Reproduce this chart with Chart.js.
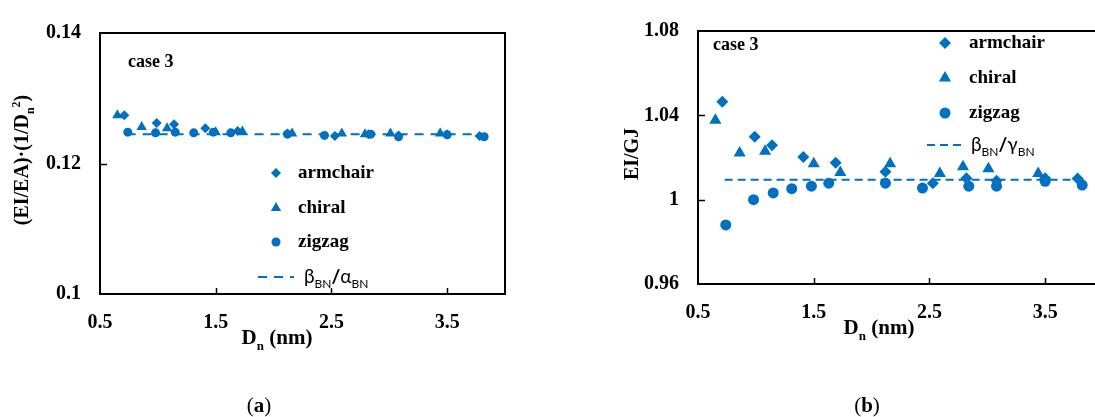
<!DOCTYPE html>
<html lang="en">
<head>
<meta charset="UTF-8">
<title>EI ratios vs Dn</title>
<script src="https://cdn.jsdelivr.net/npm/chart.js"></script>
<style>
  html, body { margin: 0; padding: 0; background: #fff; overflow: hidden; }
  body { width: 1095px; height: 417px; position: relative; }
  canvas { position: absolute; top: 0; }
  #chartA { left: 0; }
  #chartB { left: 545px; }
</style>
</head>
<body>
<canvas id="chartA" width="545" height="417"></canvas>
<canvas id="chartB" width="570" height="417"></canvas>

<script>
// diameters (nm) for each tube family
const armchairX = [0.71, 0.99, 1.14, 1.41, 1.69, 2.12, 2.53, 2.82, 3.08, 3.50, 3.78];
const chiralX   = [0.65, 0.86, 1.08, 1.50, 1.73, 2.16, 2.59, 2.79, 3.01, 3.44];
const zigzagX   = [0.74, 0.98, 1.15, 1.31, 1.48, 1.63, 2.12, 2.44, 2.84, 3.08, 3.50, 3.82];

// panel (a): (EI/EA)*(1/Dn^2)
const armchairA = [0.1274, 0.1262, 0.1260, 0.1254, 0.1250, 0.1246, 0.1242, 0.1245, 0.1243, 0.1245, 0.1242];
const chiralA   = [0.1274, 0.1256, 0.1254, 0.1248, 0.1249, 0.1246, 0.1246, 0.1245, 0.1246, 0.1246];
const zigzagA   = [0.1248, 0.1247, 0.1248, 0.1247, 0.1248, 0.1247, 0.1245, 0.1243, 0.1245, 0.1241, 0.1244, 0.1241];
const refLineA  = { x: [0.73, 3.82], y: 0.1245 };

// panel (b): EI/GJ
const armchairB = [1.0464, 1.0299, 1.0258, 1.0202, 1.0175, 1.0133, 1.0078, 1.0101, 1.0090, 1.0101, 1.0100];
const chiralB   = [1.0377, 1.0221, 1.0230, 1.0170, 1.0129, 1.0170, 1.0124, 1.0156, 1.0147, 1.0124];
const zigzagB   = [0.9880, 1.0000, 1.0032, 1.0052, 1.0064, 1.0078, 1.0078, 1.0055, 1.0064, 1.0064, 1.0087, 1.0069];
const refLineB  = { x: [0.73, 3.86], y: 1.0095 };

const xTicks  = [0.5, 1.5, 2.5, 3.5];
const yTicksA = [0.10, 0.12, 0.14];
const yTicksB = [0.96, 1.00, 1.04, 1.08];

const blue = "#0070C0";
const serif = "'Liberation Serif', 'DejaVu Serif', serif";
const sans = "Lato, 'Open Sans', sans-serif";

function pts(xs, ys) {
    return xs.map((x, i) => ({ x: x, y: ys[i] }));
}

// draws a run of text pieces, some as subscript / superscript
function drawRich(ctx, parts, x, y, size, family, align) {
    const fontFor = p => `${p.w || "bold"} ${p.m ? Math.round(size * 0.62) : size}px ${p.f || family}`;
    let total = 0;
    parts.forEach(p => { ctx.font = fontFor(p); total += ctx.measureText(p.t).width; });
    let cx = align === "center" ? x - total / 2 : x;
    ctx.textBaseline = "alphabetic";
    ctx.textAlign = "left";
    parts.forEach(p => {
        ctx.font = fontFor(p);
        let dy = 0;
        if (p.m === "sub") dy = size * 0.28;
        if (p.m === "sup") dy = -size * 0.42;
        ctx.fillText(p.t, cx, y + dy);
        cx += ctx.measureText(p.t).width;
    });
}

function marker(ctx, style, r, x, y) {
    ctx.save();
    ctx.fillStyle = blue;
    Chart.helpers.drawPoint(ctx, { pointStyle: style, radius: r, rotation: 0, borderWidth: 0 }, x, y);
    ctx.restore();
}

function makePanel(id, cfg) {
    const decor = {
        id: "decor",
        afterDraw(chart) {
            const ctx = chart.ctx;
            const a = chart.chartArea;
            const xs = chart.scales.x, ys = chart.scales.y;
            ctx.save();
            // frame
            ctx.strokeStyle = "#000";
            ctx.lineWidth = 2;
            ctx.strokeRect(a.left, a.top, a.right - a.left, a.bottom - a.top);
            // inward tick marks
            ctx.lineWidth = 1.5;
            ctx.beginPath();
            xTicks.slice(1).forEach(v => {
                const px = Math.round(xs.getPixelForValue(v)) + 0.5;
                ctx.moveTo(px, a.bottom);
                ctx.lineTo(px, a.bottom - 6);
            });
            cfg.yTicks.slice(1, -1).forEach(v => {
                const py = Math.round(ys.getPixelForValue(v)) + 0.5;
                ctx.moveTo(a.left, py);
                ctx.lineTo(a.left + 7, py);
            });
            ctx.stroke();

            ctx.fillStyle = "#000";
            // case label
            ctx.font = `bold 18px ${serif}`;
            ctx.textAlign = "left";
            ctx.textBaseline = "middle";
            ctx.fillText("case 3", cfg.caseAt[0], cfg.caseAt[1]);

            // x title
            drawRich(ctx, [{ t: "D" }, { t: "n", m: "sub" }, { t: " (nm)" }],
                cfg.xTitleAt[0], cfg.xTitleAt[1], 21, serif, "center");

            // y title (rotated)
            ctx.save();
            ctx.translate(cfg.yTitleAt[0], cfg.yTitleAt[1]);
            ctx.rotate(-Math.PI / 2);
            drawRich(ctx, cfg.yTitle, 0, 0, 20, serif, "center");
            ctx.restore();

            // panel tag
            drawRich(ctx, [{ t: "(", w: "normal" }, { t: cfg.tag }, { t: ")", w: "normal" }],
                cfg.tagAt[0], cfg.tagAt[1], 21, serif, "center");

            // legend
            const L = cfg.legend;
            const names = ["armchair", "chiral", "zigzag"];
            const styles = ["rectRot", "triangle", "circle"];
            names.forEach((n, i) => {
                marker(ctx, styles[i], cfg.legendR[i], L.mx, L.rows[i]);
                ctx.fillStyle = "#000";
                ctx.font = `bold 19px ${serif}`;
                ctx.textAlign = "left";
                ctx.textBaseline = "middle";
                ctx.fillText(n, L.tx, L.rows[i]);
            });
            ctx.strokeStyle = blue;
            ctx.lineWidth = 2;
            ctx.setLineDash(cfg.dash);
            ctx.beginPath();
            ctx.moveTo(L.lx[0], L.rows[3]);
            ctx.lineTo(L.lx[1], L.rows[3]);
            ctx.stroke();
            ctx.setLineDash([]);
            ctx.fillStyle = "#000";
            drawRich(ctx, [{ t: "β", f: sans, w: "normal" }, { t: "BN", m: "sub", f: sans, w: "normal" },
                           { t: "/", f: sans }, { t: cfg.greek, f: sans, w: "normal" },
                           { t: "BN", m: "sub", f: sans, w: "normal" }],
                L.bx, L.rows[3] + 6, 19, sans, "left");
            ctx.restore();
        }
    };

    const tickFont = { family: serif, weight: "bold", size: 20 };

    return new Chart(document.getElementById(id), {
        type: "scatter",
        data: {
            datasets: [
                { label: "armchair", data: pts(armchairX, cfg.arm), pointStyle: "rectRot",
                  pointRadius: cfg.legendR[0], backgroundColor: blue, borderColor: blue, borderWidth: 0 },
                { label: "chiral", data: pts(chiralX, cfg.chi), pointStyle: "triangle",
                  pointRadius: cfg.legendR[1], backgroundColor: blue, borderColor: blue, borderWidth: 0 },
                { label: "zigzag", data: pts(zigzagX, cfg.zig), pointStyle: "circle",
                  pointRadius: cfg.legendR[2], backgroundColor: blue, borderColor: blue, borderWidth: 0 },
                { label: "ref", type: "line", data: cfg.ref.x.map(x => ({ x: x, y: cfg.ref.y })),
                  borderColor: blue, borderWidth: 2, borderDash: cfg.dash, pointRadius: 0, fill: false }
            ]
        },
        options: {
            responsive: false,
            animation: false,
            events: [],
            layout: { padding: cfg.padding },
            plugins: { legend: { display: false }, tooltip: { enabled: false } },
            scales: {
                x: {
                    type: "linear", min: 0.5, max: 4,
                    afterBuildTicks: s => { s.ticks = xTicks.map(v => ({ value: v })); },
                    afterFit: s => { s.height = cfg.xH; },
                    grid: { display: false, drawTicks: false },
                    border: { display: false },
                    ticks: { color: "#000", font: tickFont, padding: 17, maxRotation: 0, autoSkip: false,
                             callback: v => String(+v.toFixed(2)) }
                },
                y: {
                    type: "linear", min: cfg.yTicks[0], max: cfg.yTicks[cfg.yTicks.length - 1],
                    afterBuildTicks: s => { s.ticks = cfg.yTicks.map(v => ({ value: v })); },
                    afterFit: s => { s.width = cfg.yW; },
                    grid: { display: false, drawTicks: false },
                    border: { display: false },
                    ticks: { color: "#000", font: tickFont, padding: 19, autoSkip: false,
                             callback: v => String(+v.toFixed(2)) }
                }
            }
        },
        plugins: [decor]
    });
}

makePanel("chartA", {
    arm: armchairA, chi: chiralA, zig: zigzagA, ref: refLineA, yTicks: yTicksA,
    padding: { left: 0, top: 33, right: 40, bottom: 0 }, yW: 100, xH: 123,
    legendR: [5, 6, 4.5], dash: [9, 7],
    caseAt: [128, 62], xTitleAt: [277, 344], yTitleAt: [28, 160], tagAt: [259, 412],
    yTitle: [{ t: "(EI/EA)·(1/D" }, { t: "n", m: "sub" }, { t: "2", m: "sup" }, { t: ")" }],
    tag: "a", greek: "α",
    legend: { mx: 276, tx: 298, rows: [173, 208, 242, 277], lx: [258, 294], bx: 304 }
});

makePanel("chartB", {
    arm: armchairB, chi: chiralB, zig: zigzagB, ref: refLineB, yTicks: yTicksB,
    padding: { left: 0, top: 23, right: 12, bottom: 0 }, yW: 153, xH: 133,
    legendR: [6, 7, 5.5], dash: [8, 5],
    caseAt: [168, 45], xTitleAt: [334, 334], yTitleAt: [93, 154], tagAt: [322, 412],
    yTitle: [{ t: "EI/GJ" }],
    tag: "b", greek: "γ",
    legend: { mx: 400, tx: 424, rows: [43, 78, 113, 145], lx: [382, 418], bx: 426 }
});
</script>
</body>
</html>
